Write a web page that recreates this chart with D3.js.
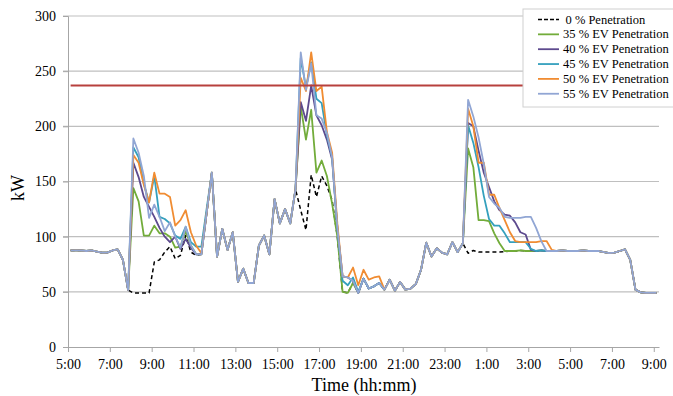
<!DOCTYPE html>
<html lang="en">
<head>
<meta charset="UTF-8">
<title>EV penetration load</title>
<script src="https://cdn.jsdelivr.net/npm/d3@7"></script>
<style>
  body { margin: 0; background: #fff; }
  svg text { font-family: "Liberation Serif", "Times New Roman", serif; fill: #000; }
</style>
</head>
<body>
<script>
// 15 min slots from 5:00 to 9:00 next day (113 slots)
var tickLabels = ["5:00", "7:00", "9:00", "11:00", "13:00", "15:00", "17:00", "19:00",
    "21:00", "23:00", "1:00", "3:00", "5:00", "7:00", "9:00"];
var seriesNames = ["0 % Penetration", "35 % EV Penetration", "40 % EV Penetration",
    "45 % EV Penetration", "50 % EV Penetration", "55 % EV Penetration"];
var seriesColors = ["#000000", "#72ac3a", "#5d4a8e", "#34a0bd", "#f08c32", "#91a6d4"];

var pen0 = [87.5, 87.5, 87.5, 87, 87.5, 86.5, 85.5, 85.5, 87.5, 88.5, 79, 51.5,
    49, 49, 49, 49, 77, 79, 86, 91, 80, 83, 101, 86, 83, 84, 121,
    158, 82, 107, 88, 104, 59, 71, 58, 58, 92, 101, 84, 134, 112, 125, 112, 143,
    124, 106, 156, 136, 155, 146, 133, 100, 50, 49, 58, 49, 62, 53, 55, 58,
    52, 61, 51, 59, 52, 53, 57, 70, 94.5, 82, 89.5, 85.5, 84, 95, 86, 94,
    85, 87.5, 86, 86, 86, 86, 86, 86.5, 87, 87, 87.5, 87, 87, 87, 87.5, 87,
    87, 87, 87.5, 87, 87, 87, 87.5, 87, 87, 87, 86, 85, 85.5, 87, 88.5, 79, 52, 49.5, 49, 49, 49];
var pen35 = [87.5, 87.5, 87.5, 87, 87.5, 86.5, 85.5, 85.5, 87.5, 88.5, 79, 51.5,
    144, 132, 101, 101, 110, 103, 103, 100, 90, 91, 105, 92, 84, 84, 121,
    158, 82, 107, 88, 104, 59, 71, 58, 58, 92, 101, 84, 134, 112, 125, 112, 143,
    218, 188, 215, 158, 169, 155, 130, 100, 50, 49, 58, 49, 62, 53, 55, 58,
    52, 61, 51, 59, 52, 53, 57, 70, 94.5, 82, 89.5, 85.5, 84, 95, 86, 94,
    180, 163, 115, 115, 114, 103, 94, 87, 87, 87, 87.5, 87, 87, 87, 87.5, 87,
    87, 87, 87.5, 87, 87, 87, 87.5, 87, 87, 87, 86, 85, 85.5, 87, 88.5, 79, 52, 49.5, 49, 49, 49];
var pen40 = [87.5, 87.5, 87.5, 87, 87.5, 86.5, 85.5, 85.5, 87.5, 88.5, 79, 51.5,
    167, 154, 136, 127, 118, 108, 100, 95, 100, 89, 98, 90, 84, 84, 121,
    158, 82, 107, 88, 104, 59, 71, 58, 58, 92, 101, 84, 134, 112, 125, 112, 143,
    222, 205, 237, 210, 201, 188, 170, 108, 64, 63, 60, 49, 62, 53, 55, 58,
    52, 61, 51, 59, 52, 53, 57, 70, 94.5, 82, 89.5, 85.5, 84, 95, 86, 94,
    203, 200, 178, 158, 145, 132, 124, 120, 119, 113, 104, 102, 88, 87, 87.5, 87,
    87, 87, 87.5, 87, 87, 87, 87.5, 87, 87, 87, 86, 85, 85.5, 87, 88.5, 79, 52, 49.5, 49, 49, 49];
var pen45 = [87.5, 87.5, 87.5, 87, 87.5, 86.5, 85.5, 85.5, 87.5, 88.5, 79, 51.5,
    181, 172, 148, 131, 155, 118, 116, 112, 101, 98, 109, 95, 91, 91, 125,
    158, 82, 107, 88, 104, 59, 71, 58, 58, 92, 101, 84, 134, 112, 125, 112, 143,
    262, 235, 258, 225, 221, 192, 172, 108, 60, 56, 63, 50, 62, 53, 55, 58,
    52, 61, 51, 59, 52, 53, 57, 70, 94.5, 82, 89.5, 85.5, 84, 95, 86, 94,
    201, 185, 163, 137, 116, 110, 110, 103, 95, 95, 95, 95, 89, 87, 87.5, 87,
    87, 87, 87.5, 87, 87, 87, 87.5, 87, 87, 87, 86, 85, 85.5, 87, 88.5, 79, 52, 49.5, 49, 49, 49];
var pen50 = [87.5, 87.5, 87.5, 87, 87.5, 86.5, 85.5, 85.5, 87.5, 88.5, 79, 51.5,
    174, 167, 147, 131, 158, 139, 139, 136, 110, 115, 124, 104, 92, 85, 121,
    158, 82, 107, 88, 104, 59, 71, 58, 58, 92, 101, 84, 134, 112, 125, 112, 143,
    244, 232, 267, 232, 236, 195, 176, 112, 64, 63, 72, 56, 70, 61, 63, 64,
    52, 61, 51, 59, 52, 53, 57, 70, 94.5, 82, 89.5, 85.5, 84, 95, 86, 94,
    216, 200, 167, 167, 138, 138, 126, 115, 104, 96, 95, 95, 95, 95, 96, 96,
    88, 87, 87.5, 87, 87, 87, 87.5, 87, 87, 87, 86, 85, 85.5, 87, 88.5, 79, 52, 49.5, 49, 49, 49];
var pen55 = [87.5, 87.5, 87.5, 87, 87.5, 86.5, 85.5, 85.5, 87.5, 88.5, 79, 51.5,
    189, 176, 155, 117, 129, 118, 105, 113, 100, 90, 109, 92, 84, 84, 121,
    158, 82, 107, 88, 104, 59, 71, 58, 58, 92, 101, 84, 134, 112, 125, 112, 143,
    267, 233, 257, 210, 207, 194, 172, 108, 64, 63, 60, 49, 62, 53, 55, 58,
    52, 61, 51, 59, 52, 53, 57, 70, 94.5, 82, 89.5, 85.5, 84, 95, 86, 94,
    224, 209, 190, 166, 136, 130, 126, 118, 117, 117, 117, 118, 118, 108, 96, 87,
    87, 87, 87.5, 87, 87, 87, 87.5, 87, 87, 87, 86, 85, 85.5, 87, 88.5, 79, 52, 49.5, 49, 49, 49];
var limitKW = 237; // transformer rating line
var yTicks = [0, 50, 100, 150, 200, 250, 300];

var allSeries = [pen0, pen35, pen40, pen45, pen50, pen55];

var width = 673, height = 396;
var plotLeft = 68, plotRight = 659, plotTop = 16, plotBottom = 347;

var svg = d3.select("body").append("svg")
    .attr("width", width)
    .attr("height", height);
svg.append("rect").attr("width", width).attr("height", height).attr("fill", "#fff");

var nSlots = pen0.length;
var x = d3.scaleLinear().domain([0, nSlots]).range([plotLeft, plotRight]);
var y = d3.scaleLinear().domain([0, 300]).range([plotBottom, plotTop]);

// gridlines
svg.append("g").selectAll("line")
    .data(yTicks.slice(1))
    .enter().append("line")
    .attr("x1", plotLeft - 5).attr("x2", plotRight)
    .attr("y1", function (d) { return y(d); })
    .attr("y2", function (d) { return y(d); })
    .attr("stroke", "#bfbfbf").attr("stroke-width", 1.2);

// y axis
var yAxis = d3.axisLeft(y).tickValues(yTicks).tickSize(5).tickPadding(7);
var gy = svg.append("g").attr("transform", "translate(" + plotLeft + ",0)").call(yAxis);
gy.selectAll("text").style("font-size", "14px");
gy.selectAll("line, path").attr("stroke", "#a6a6a6");

// x axis
var xAxis = d3.axisBottom(x)
    .tickValues(d3.range(0, nSlots, 8))
    .tickFormat(function (d, i) { return tickLabels[i]; })
    .tickSizeInner(5).tickSizeOuter(0).tickPadding(7);
var gx = svg.append("g").attr("transform", "translate(0," + plotBottom + ")").call(xAxis);
gx.selectAll("text").style("font-size", "14px");
gx.selectAll("line, path").attr("stroke", "#a6a6a6");

// series lines
var line = d3.line()
    .x(function (d, i) { return x(i + 0.5); })
    .y(function (d) { return y(d); });

allSeries.forEach(function (s, k) {
    svg.append("path")
        .datum(s)
        .attr("d", line)
        .attr("fill", "none")
        .attr("stroke", seriesColors[k])
        .attr("stroke-width", k == 0 ? 1.5 : 1.8)
        .attr("stroke-dasharray", k == 0 ? "4,3" : null)
        .attr("stroke-linejoin", "round");
});

// limit line
svg.append("line")
    .attr("x1", x(0.5)).attr("x2", x(nSlots - 0.5))
    .attr("y1", y(limitKW)).attr("y2", y(limitKW))
    .attr("stroke", "#b7403d").attr("stroke-width", 2);

// axis titles
svg.append("text")
    .attr("transform", "translate(24,188) rotate(-90)")
    .attr("text-anchor", "middle")
    .style("font-size", "18px")
    .text("kW");
svg.append("text")
    .attr("x", 364).attr("y", 391)
    .attr("text-anchor", "middle")
    .style("font-size", "18px")
    .text("Time (hh:mm)");

// legend
var legend = svg.append("g");
legend.append("rect")
    .attr("x", 523).attr("y", 9).attr("width", 160).attr("height", 98)
    .attr("fill", "#fff").attr("stroke", "#d0d0d0");
seriesNames.forEach(function (name, k) {
    var cy = 19.5 + k * 14.85;
    legend.append("line")
        .attr("x1", 538).attr("x2", 559)
        .attr("y1", cy).attr("y2", cy)
        .attr("stroke", seriesColors[k])
        .attr("stroke-width", k == 0 ? 1.6 : 1.8)
        .attr("stroke-dasharray", k == 0 ? "4,2" : null);
    legend.append("text")
        .attr("x", k == 0 ? 565.5 : 563).attr("y", cy + 4)
        .style("font-size", "12.5px")
        .text(name);
});
</script>
</body>
</html>
